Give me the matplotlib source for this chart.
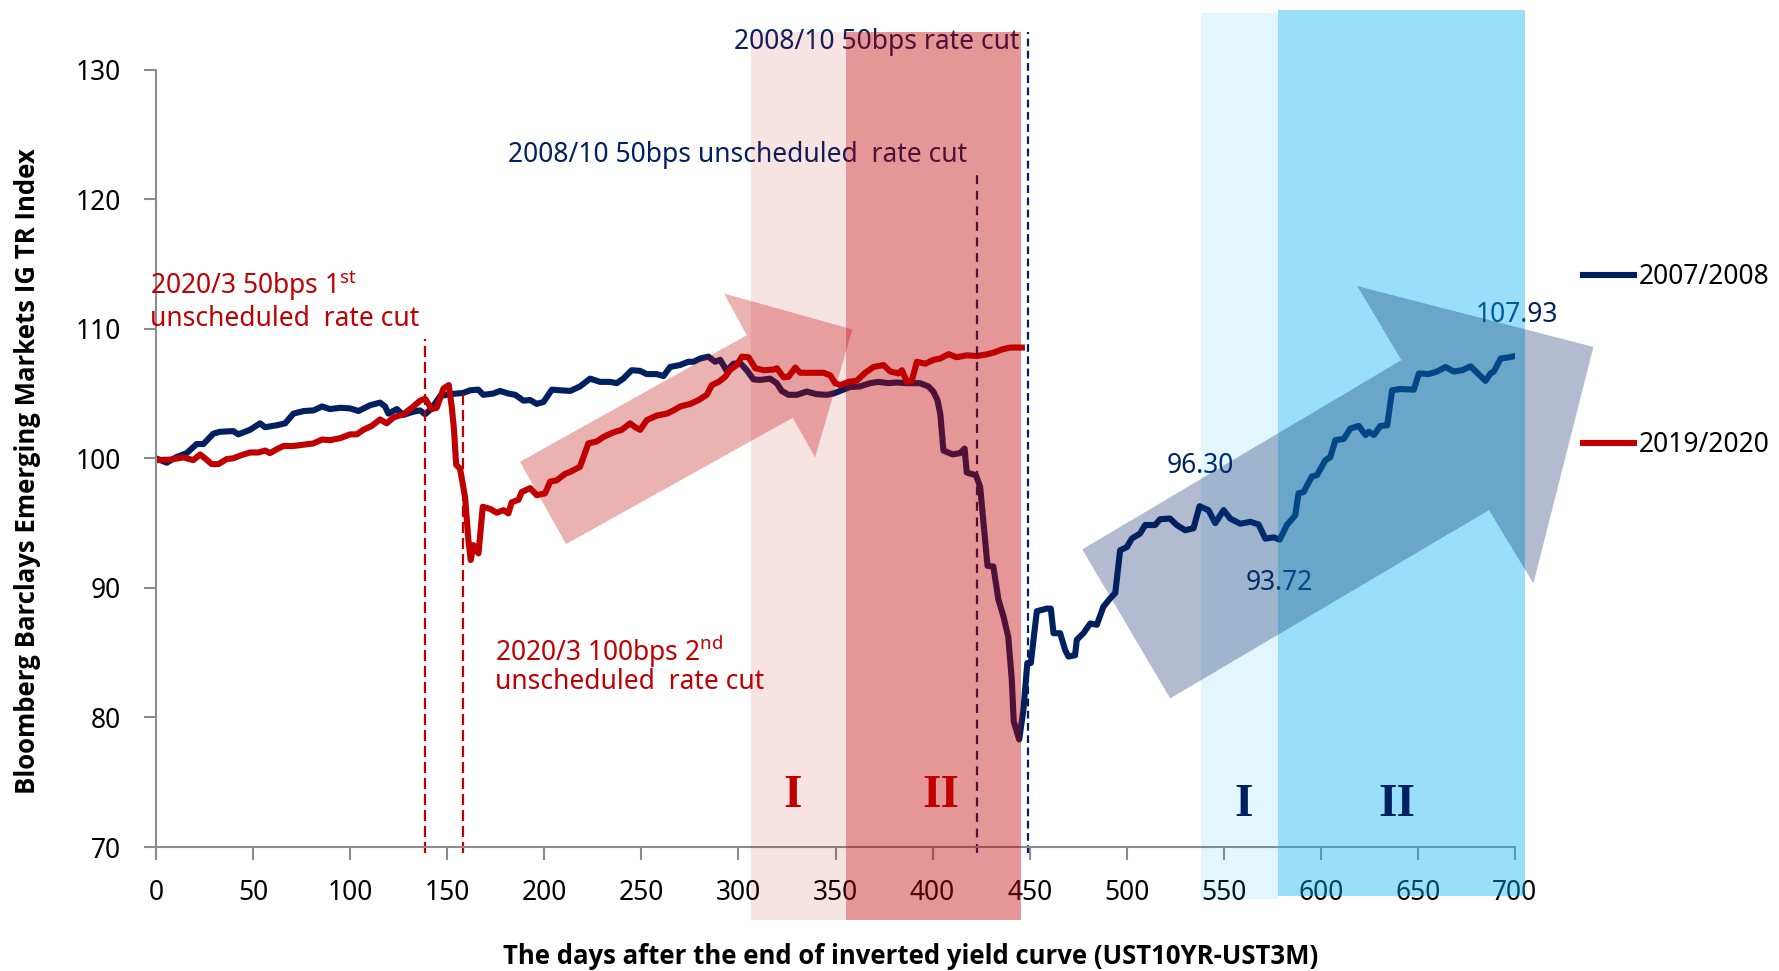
import matplotlib
matplotlib.use("Agg")
import matplotlib.pyplot as plt
from matplotlib.patches import Rectangle, Polygon

plt.rcParams['font.family'] = ['Noto Sans', 'DejaVu Sans']
plt.rcParams['mathtext.fontset'] = 'custom'
plt.rcParams['mathtext.rm'] = 'Noto Sans'

NAVY = '#002060'
RED = '#C00000'

# 2007/2008 series (days after end of inverted yield curve, index level)
days_0708 = [0, 5.5, 10.6, 15.8, 20.9, 24.4, 29.5, 33, 39.8, 42.4, 48.4, 53.6, 56.2, 62.2, 66.5,
             70.8, 76.1, 81.2, 85.5, 89.6, 94.8, 100, 104.3, 110.3, 115.4, 118, 119.7, 124, 127.4,
             132.6, 136, 138.6, 142, 146.3, 151.5, 158.3, 161.8, 166, 168.6, 173.8, 177.2, 181.5,
             185, 189.3, 192.7, 196.1, 199.6, 203.9, 208.2, 213.4, 218.4, 223.6, 228.7, 233.9,
             237.3, 240.7, 245, 249.3, 252.8, 257.9, 261.4, 264.8, 269.9, 274.2, 276.8, 280.3,
             284.5, 288, 290.6, 294, 297.4, 300.9, 304.3, 307.7, 311.2, 316.3, 319.7, 322.3,
             325.8, 330.1, 335.2, 340.3, 345.5, 348.9, 353.2, 357.5, 362.6, 367.8, 372.1, 377.2,
             381.5, 386.6, 393.5, 397.8, 400.4, 402.5, 404, 405.6, 410.3, 414.2, 416.5, 417.6,
             422.3, 424.5, 426.5, 428.3, 431.3, 433.9, 436.5, 439, 440.8, 441.8, 444.6, 446.8,
             448.8, 450.6, 453.7, 458.8, 460.9, 462.3, 465.7, 468.3, 470, 473.4, 474.3, 477.7,
             481.2, 484.6, 488, 491.5, 494.1, 496.6, 500.1, 502.6, 506.9, 509.5, 514.6, 517.2,
             522.3, 525.8, 530.1, 534.4, 537.5, 542.1, 545.6, 549.9, 553.3, 558.5, 563.6, 567.9,
             571.4, 575.7, 578.8, 582.5, 586.8, 588.5, 591.1, 595.4, 598, 602.3, 604.9, 607.5,
             611.8, 615.2, 619.5, 623, 624.7, 627.3, 630.7, 634.2, 636.7, 641, 647.9, 650.5,
             655.6, 659.9, 664.2, 668.5, 672.8, 677.1, 680.5, 684.8, 687.4, 689.1, 692.6, 696.9,
             701.2]
vals_0708 = [100.0, 99.66, 100.1, 100.4, 101.1, 101.1, 101.9, 102.05, 102.1, 101.85, 102.2, 102.7,
             102.4, 102.55, 102.7, 103.45, 103.65, 103.7, 104.0, 103.8, 103.9, 103.85, 103.65,
             104.1, 104.3, 104.0, 103.45, 103.8, 103.35, 103.6, 103.7, 103.4, 103.85, 104.8,
             104.95, 105.05, 105.25, 105.3, 104.9, 105.0, 105.2, 105.0, 104.9, 104.45, 104.5,
             104.2, 104.35, 105.3, 105.25, 105.2, 105.55, 106.15, 105.9, 105.9, 105.8, 106.15,
             106.8, 106.75, 106.5, 106.5, 106.35, 107.05, 107.2, 107.45, 107.45, 107.7, 107.85,
             107.45, 107.6, 106.75, 107.3, 107.35, 106.8, 106.1, 106.05, 106.15, 105.8, 105.2,
             104.9, 104.9, 105.15, 104.95, 104.9, 105.0, 105.25, 105.5, 105.55, 105.8, 105.9,
             105.8, 105.85, 105.8, 105.8, 105.55, 105.15, 104.5, 103.4, 100.6, 100.3, 100.4,
             100.75, 98.9, 98.7, 97.8, 94.6, 91.7, 91.65, 89.1, 87.8, 86.2, 82.9, 79.7, 78.3,
             80.6, 84.2, 84.2, 88.2, 88.4, 88.4, 86.5, 86.5, 85.2, 84.7, 84.8, 86.0, 86.5, 87.25,
             87.15, 88.55, 89.2, 89.6, 92.9, 93.15, 93.8, 94.2, 94.85, 94.85, 95.3, 95.35, 94.85,
             94.45, 94.6, 96.3, 96.0, 95.0, 96.0, 95.35, 94.95, 95.1, 94.9, 93.8, 93.9, 93.72,
             94.85, 95.6, 97.3, 97.4, 98.6, 98.7, 99.85, 100.1, 101.4, 101.5, 102.3, 102.5,
             101.8, 102.05, 101.8, 102.5, 102.55, 105.25, 105.35, 105.3, 106.55, 106.5, 106.7,
             107.05, 106.7, 106.8, 107.1, 106.6, 105.98, 106.55, 106.7, 107.7, 107.8, 107.93]

# 2019/2020 series
days_1920 = [0, 7.2, 14.1, 19.2, 22.7, 25.2, 28.7, 32.1, 36.4, 39.8, 44.1, 48.4, 52.7, 56.2, 58.7,
             62.2, 65.6, 70.8, 75.9, 81.1, 85.5, 89.6, 94.8, 100, 103.4, 106.8, 111.1, 115.4,
             118.8, 122.3, 127.4, 132.6, 136, 138.6, 142, 144.6, 148.1, 150.8, 152.3, 153.5,
             154.6, 156.6, 159.2, 160.9, 162.1, 163.5, 166.1, 168.3, 172.1, 175.5, 179, 181.5,
             183.2, 186.7, 188.4, 192.7, 196.1, 200.4, 203, 206.4, 210.7, 213.3, 218.4, 222.7,
             227, 230.5, 235.6, 239.9, 244.2, 246.8, 249.4, 252.8, 258, 263.1, 266.6, 270,
             275.2, 279.5, 283.7, 286.3, 289.8, 293.2, 295.8, 299.2, 301.8, 305.2, 308.7, 313,
             318.1, 319.8, 323.3, 325.8, 329.3, 331.8, 337, 343.8, 347.3, 349.8, 352.4, 356.7,
             361, 365.3, 369.6, 374.7, 378.2, 382.5, 384.2, 386.8, 389.3, 391.9, 396.2, 400.5,
             403.9, 408.2, 412.5, 417.6, 422.8, 427.1, 431.4, 435.7, 440, 446]
vals_1920 = [99.86, 99.9, 100.07, 99.86, 100.3, 100.0, 99.55, 99.55, 99.94, 100.0, 100.25, 100.45,
             100.45, 100.6, 100.4, 100.7, 100.95, 100.95, 101.05, 101.15, 101.45, 101.4, 101.55,
             101.85, 101.85, 102.2, 102.5, 103.0, 102.7, 103.15, 103.4, 104.0, 104.45, 104.6,
             103.8, 103.9, 105.4, 105.65, 104.0, 102.2, 99.5, 99.2, 97.0, 93.7, 92.15, 93.3,
             92.66, 96.26, 96.1, 95.8, 96.0, 95.75, 96.6, 96.8, 97.4, 97.7, 97.15, 97.3, 98.2,
             98.3, 98.8, 98.95, 99.35, 101.15, 101.3, 101.65, 102.0, 102.2, 102.7, 102.4, 102.2,
             102.95, 103.3, 103.45, 103.7, 104.0, 104.2, 104.5, 104.9, 105.65, 105.9, 106.3,
             106.85, 107.2, 107.85, 107.8, 106.95, 106.8, 106.85, 106.95, 106.25, 106.3, 107.0,
             106.6, 106.6, 106.6, 106.4, 105.8, 105.65, 105.9, 106.0, 106.6, 107.05, 107.2,
             106.7, 106.55, 106.8, 105.9, 106.0, 107.45, 107.3, 107.6, 107.7, 108.04, 107.8,
             107.95, 107.9, 108.0, 108.15, 108.4, 108.55, 108.55]

# rate-cut markers: day, top value, colour
cut_days = [138.4, 158.2, 423.0, 449.4]
cut_tops = [109.2, 105.3, 122.0, 132.9]
cut_colors = [RED, RED, NAVY, NAVY]
cut_dashes = [(5, 2.2), (5, 2.2), (4, 3), (3.5, 2)]

# phase shading: start, end, bottom, top, colour, alpha
phase_start = [306.6, 355.5, 538.3, 578.1]
phase_end = [355.5, 445.6, 578.1, 705.3]
phase_bottom = [64.4, 64.4, 66.0, 66.2]
phase_top = [132.9, 132.9, 134.4, 134.6]
phase_colors = [RED, RED, '#00B0F0', '#00B0F0']
phase_alpha = [0.11, 0.41, 0.11, 0.40]

# block arrows (day, value) outlines
red_arrow = [(187.5, 99.73), (304.3, 109.5), (292.6, 112.72), (358.7, 109.95),
             (339.5, 100.07), (328.0, 103.13), (211.2, 93.38)]
blue_arrow = [(477.1, 92.97), (641.5, 107.58), (618.8, 113.29), (740.4, 108.6),
              (709.5, 90.35), (686.6, 96.0), (522.4, 81.47)]

fig = plt.figure(figsize=(17.79, 9.71), dpi=100)
ax = fig.add_axes([0.0877, 0.1277, 0.7639, 0.8006])

l1, = ax.plot(days_0708, vals_0708, color=NAVY, lw=4.4, zorder=2, solid_joinstyle='round')
l2, = ax.plot(days_1920, vals_1920, color=RED, lw=4.4, zorder=2, solid_joinstyle='round')

for d, top, c, ds in zip(cut_days, cut_tops, cut_colors, cut_dashes):
    ax.plot([d, d], [69.5, top], color=c, lw=1.6, dashes=ds, clip_on=False, zorder=2)

for x0, x1, y0, y1, c, a in zip(phase_start, phase_end, phase_bottom, phase_top,
                                phase_colors, phase_alpha):
    ax.add_patch(Rectangle((x0, y0), x1 - x0, y1 - y0, facecolor=c, alpha=a,
                           edgecolor='none', clip_on=False, zorder=4))

ax.add_patch(Polygon(red_arrow, closed=True, facecolor=RED, alpha=0.3,
                     edgecolor='none', clip_on=False, zorder=4))
ax.add_patch(Polygon(blue_arrow, closed=True, facecolor=NAVY, alpha=0.3,
                     edgecolor='none', clip_on=False, zorder=4))

fs = 19
ax.text(445.0, 132.14, '2008/10 50bps rate cut', color=NAVY, fontsize=fs,
        ha='right', va='center', zorder=3, clip_on=False)
ax.text(417.6, 123.4, '2008/10 50bps unscheduled  rate cut', color=NAVY, fontsize=fs,
        ha='right', va='center', zorder=3)
ax.text(-3.1, 113.31, r'2020/3 50bps 1$^{\mathrm{st}}$', color=RED, fontsize=fs,
        ha='left', va='center', zorder=3, clip_on=False)
ax.text(-3.1, 110.79, 'unscheduled  rate cut', color=RED, fontsize=fs,
        ha='left', va='center', zorder=3, clip_on=False)
ax.text(174.4, 85.07, r'2020/3 100bps 2$^{\mathrm{nd}}$', color=RED, fontsize=fs,
        ha='left', va='center', zorder=3)
ax.text(174.4, 82.75, 'unscheduled  rate cut', color=RED, fontsize=fs,
        ha='left', va='center', zorder=3)
ax.text(537.9, 99.4, '96.30', color=NAVY, fontsize=fs, ha='center', va='center', zorder=3)
ax.text(578.7, 90.39, '93.72', color=NAVY, fontsize=fs, ha='center', va='center', zorder=3)
ax.text(700.8, 111.05, '107.93', color=NAVY, fontsize=fs, ha='center', va='center', zorder=3)

roman = dict(family='Liberation Serif', fontweight='bold', fontsize=34,
             ha='center', va='center', zorder=6)
ax.text(327.9, 73.95, 'I', color=RED, **roman)
ax.text(404.2, 73.95, 'II', color=RED, **roman)
ax.text(560.4, 73.25, 'I', color=NAVY, **roman)
ax.text(639.4, 73.25, 'II', color=NAVY, **roman)

ax.set_xlim(0, 700)
ax.set_ylim(70, 130)
ax.set_xticks(range(0, 701, 50))
ax.set_yticks(range(70, 131, 10))
for side in ['top', 'right']:
    ax.spines[side].set_visible(False)
for side in ['left', 'bottom']:
    ax.spines[side].set_color('#8c8c8c')
    ax.spines[side].set_linewidth(1.5)
ax.tick_params(axis='both', direction='out', length=9, width=1.5, color='#8c8c8c',
               labelsize=fs, labelcolor='black')
ax.tick_params(axis='y', pad=16)
ax.tick_params(axis='x', pad=14)
ax.set_facecolor('none')

label_font = dict(family=['Open Sans', 'Noto Sans'], fontweight='bold', fontsize=18.5)
fig.text(28 / 1779, 1 - 471 / 971, 'Bloomberg Barclays Emerging Markets IG TR Index',
         rotation=90, ha='center', va='center', **label_font)
fig.text(911 / 1779, 1 - 956.5 / 971,
         'The days after the end of inverted yield curve (UST10YR-UST3M)',
         ha='center', va='center', **label_font)

ax.legend([l1, l2], ['2007/2008', '2019/2020'], loc='center left',
          bbox_to_anchor=(1583 / 1779, 1 - 361.3 / 971), bbox_transform=fig.transFigure,
          frameon=False, fontsize=fs, labelspacing=5.3, handlelength=1.93,
          handletextpad=0.2, borderpad=0, borderaxespad=0)

fig.savefig('out.png', dpi=100, facecolor='white')
